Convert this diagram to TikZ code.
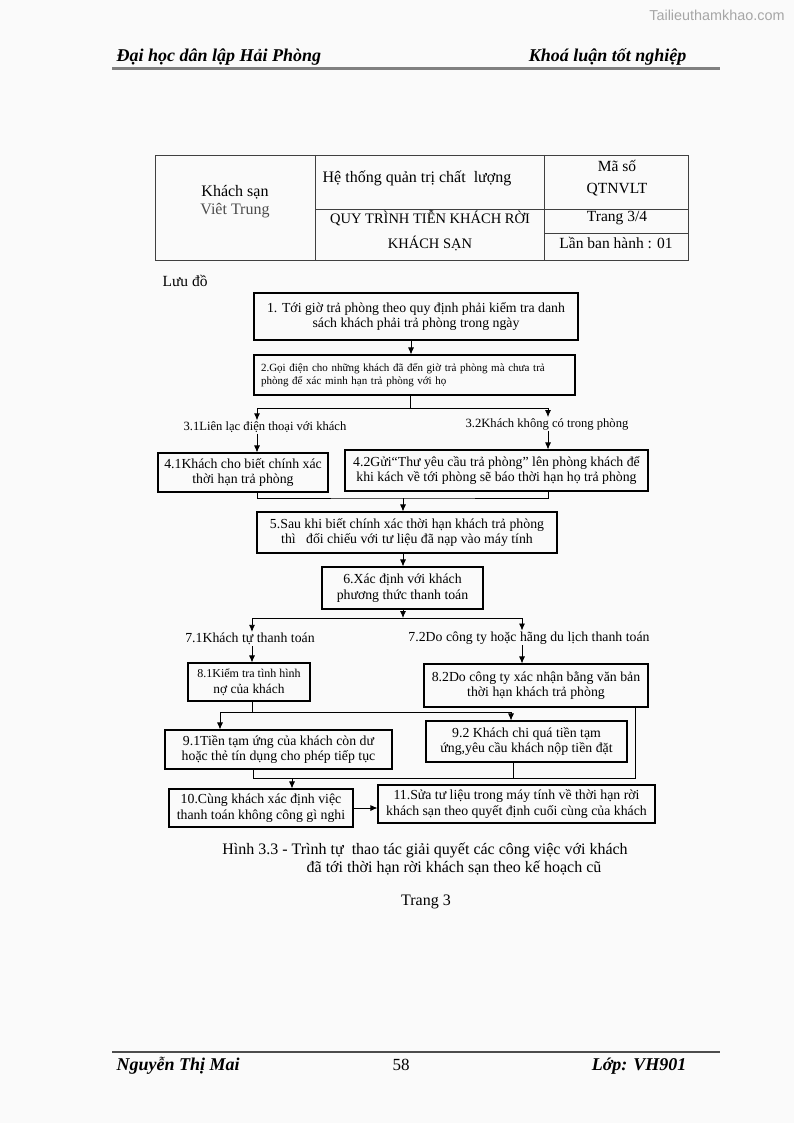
\documentclass[tikz,border=0pt]{standalone}
\usepackage{fontspec}
\setmainfont{Liberation Serif}
\newfontfamily\wmfont{Liberation Sans}
\usetikzlibrary{arrows.meta}
\newcommand{\fsz}[1]{\fontsize{#1}{#1}\selectfont}
\newcommand{\hdr}{\fsz{18}\bfseries\itshape}

\begin{document}
\begin{tikzpicture}[x=1pt,y=-1pt,
  box/.style={draw, line width=1.1pt, align=center, inner sep=0pt, font=\fsz{13.8}},
  lbl/.style={inner sep=1pt},
  arr/.style={-{Latex[length=7pt,width=6pt]}, line width=0.8pt},
  ln/.style={line width=0.8pt},
  tab/.style={line width=0.8pt, black!75}]
\useasboundingbox[fill=black!2] (0,0) rectangle (794,1123);
% page header and footer
\node[text=black!35, font=\wmfont\fsz{14.4}] (wm) at (717,15) {Tailieuthamkhao.com};
\node[anchor=west, font=\hdr] (uni) at (113,57) {Đại học dân lập Hải Phòng};
\node[anchor=east, font=\hdr] (thesis) at (690,57) {Khoá luận tốt nghiệp};
\draw[black!50, line width=3pt] (112,69) -- (720,69);
\draw[black!70, line width=2pt] (112,1052) -- (720,1052);
\node[anchor=west, font=\hdr] (author) at (113,1066) {Nguyễn Thị Mai};
\node[font=\fsz{17}] (pgno) at (401,1065) {58};
\node[anchor=east, font=\hdr] (cls) at (690,1066) {Lớp: VH901};
% table
\draw[tab] (155,155) rectangle (688,260);
\draw[tab] (315,155) -- (315,260) (544,155) -- (544,260);
\draw[tab] (315,209) -- (688,209) (544,233) -- (688,233);
\node[font=\fsz{16}] (hotel) at (235,192) {Khách sạn};
\node[font=\fsz{16}, text=black!70] (hotel2) at (235,211) {Viêt Trung};
\node[font=\fsz{16}] (qms) at (417,178) {Hệ thống quản trị chất\ \ lượng};
\node[font=\fsz{15.5}] (code) at (617,166) {Mã số};
\node[font=\fsz{15.5}] (code2) at (617,190) {QTNVLT};
\node[font=\fsz{14.5}] (proc) at (430,218) {QUY TRÌNH TIỄN KHÁCH RỜI};
\node[font=\fsz{14.5}] (proc2) at (430,243) {KHÁCH SẠN};
\node[font=\fsz{15.5}] (pg) at (617,218) {Trang 3/4};
\node[font=\fsz{15.5}] (ed) at (616,243) {Lần ban hành : 01};
\node[anchor=west, font=\fsz{15.5}] (flow) at (159,281) {Lưu đồ};
% boxes
\node[box, minimum width=324pt, minimum height=47pt] (b1) at (416,316.5)
  {1. Tới giờ trả phòng theo quy định phải kiểm tra danh\\[1pt]sách khách phải trả phòng trong ngày};
\node[box, font=\fsz{11}, align=left, text width=307pt, inner xsep=7pt, minimum height=40pt] (b2) at (414.5,375)
  {2.Gọi điện cho những khách đã đến giờ trả phòng mà chưa trả\\[2pt]phòng để xác minh hạn trả phòng với họ};
\node[lbl, font=\fsz{12.6}] (l31) at (265,427) {3.1Liên lạc điện thoại với khách};
\node[lbl, font=\fsz{12.6}] (l32) at (547,424) {3.2Khách không có trong phòng};
\node[box, minimum width=170pt, minimum height=39pt] (b41) at (243,472.5)
  {4.1Khách cho biết chính xác\\[1pt]thời hạn trả phòng};
\node[box, minimum width=303pt, minimum height=41pt] (b42) at (496.5,470.5)
  {4.2Gửi“Thư yêu cầu trả phòng” lên phòng khách để\\[1pt]khi kách về tới phòng sẽ báo thời hạn họ trả phòng};
\node[box, minimum width=300pt, minimum height=41pt] (b5) at (407,532.5)
  {5.Sau khi biết chính xác thời hạn khách trả phòng\\[1pt]thì\ \ \ đối chiếu với tư liệu đã nạp vào máy tính};
\node[box, minimum width=161pt, minimum height=42pt] (b6) at (402.5,588)
  {6.Xác định với khách\\[2pt]phương thức thanh toán};
\node[lbl, font=\fsz{13.8}] (l71) at (250,639) {7.1Khách tự thanh toán};
\node[lbl, font=\fsz{13.8}] (l72) at (529,638) {7.2Do công ty hoặc hãng du lịch thanh toán};
\node[box, minimum width=122pt, minimum height=38pt] (b81) at (249,682)
  {{\fsz{12}8.1Kiểm tra tình hình}\\[2pt]{\fsz{13.4}nợ của khách}};
\node[box, minimum width=224pt, minimum height=43pt] (b82) at (536,685.5)
  {8.2Do công ty xác nhận bằng văn bản\\[2pt]thời hạn khách trả phòng};
\node[box, minimum width=227pt, minimum height=39pt] (b91) at (278.5,749.5)
  {9.1Tiền tạm ứng của khách còn dư\\[2pt]hoặc thẻ tín dụng cho phép tiếp tục};
\node[box, minimum width=201pt, minimum height=41pt] (b92) at (526.5,741.5)
  {9.2 Khách chi quá tiền tạm\\[2pt]ứng,yêu cầu khách nộp tiền đặt};
\node[box, minimum width=184pt, minimum height=38pt] (b10) at (261,808)
  {10.Cùng khách xác định việc\\[2pt]thanh toán không công gì nghi};
\node[box, minimum width=277pt, minimum height=38pt] (b11) at (516.5,804)
  {11.Sửa tư liệu trong máy tính về thời hạn rời\\[2pt]khách sạn theo quyết định cuối cùng của khách};
% junction points
\coordinate (s1) at (410,408);
\coordinate (s1l) at (257,408);
\coordinate (s1r) at (548,408);
\coordinate (m1) at (403,498);
\coordinate (s2) at (403,618);
\coordinate (s2l) at (252,618);
\coordinate (s2r) at (522,618);
\coordinate (s3) at (252,712);
\coordinate (s3l) at (220,712);
\coordinate (s3r) at (511,712);
\coordinate (m4) at (292,778);
\coordinate (m4l) at (253,778);
\coordinate (m4c) at (513,778);
\coordinate (m4r) at (635,778);
% connectors
\draw[arr] (b1.south -| 411,0) -- (b2.north -| 411,0);
\draw[ln] (b2.south -| s1) -- (s1);
\draw[ln] (s1l) -- (s1r);
\draw[arr] (s1l) -- (s1l |- l31.north);
\draw[arr] (s1r) -- (s1r |- l32.north);
\draw[arr] (l31.south -| s1l) -- (s1l |- b41.north);
\draw[arr] (l32.south -| s1r) -- (s1r |- b42.north);
\draw[ln] (b41.south -| s1l) |- (m1) -| (b42.south -| s1r);
\draw[arr] (m1) -- (m1 |- b5.north);
\draw[arr] (b5.south -| m1) -- (m1 |- b6.north);
\draw[arr] (b6.south -| s2) -- (s2);
\draw[ln] (s2l) -- (s2r);
\draw[arr] (s2l) -- (s2l |- l71.north);
\draw[arr] (s2r) -- (s2r |- l72.north);
\draw[arr] (l71.south -| s2l) -- (s2l |- b81.north);
\draw[arr] (l72.south -| s2r) -- (s2r |- b82.north);
\draw[ln] (b81.south -| s3) -- (s3);
\draw[ln] (s3l) -- (s3r);
\draw[arr] (s3l) -- (s3l |- b91.north);
\draw[arr] (s3r) -- (s3r |- b92.north);
\draw[ln] (m4r |- b82.south) -- (m4r) -- (m4l) -- (m4l |- b91.south);
\draw[ln] (m4c |- b92.south) -- (m4c);
\draw[arr] (m4) -- (m4 |- b10.north);
\draw[arr] (b10.east) -- (b10.east -| b11.west);
% caption
\node[font=\fsz{16}] (cap) at (425,850) {Hình 3.3 - Trình tự\ \ thao tác giải quyết các công việc với khách};
\node[font=\fsz{16}] (cap2) at (454,868) {đã tới thời hạn rời khách sạn theo kế hoạch cũ};
\node[font=\fsz{16}] (trang) at (426,902) {Trang 3};
\end{tikzpicture}
\end{document}
